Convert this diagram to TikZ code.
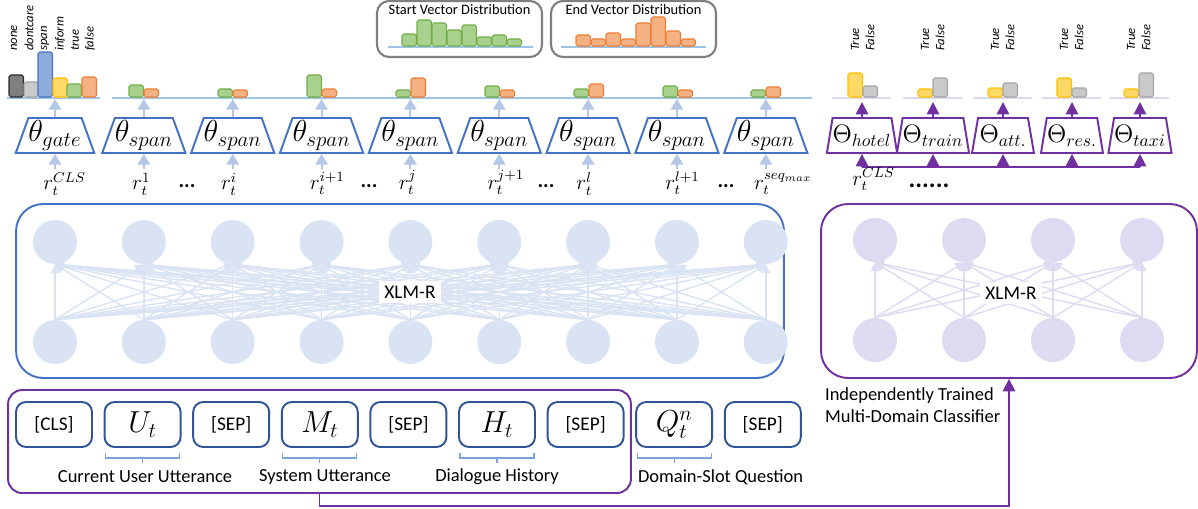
\documentclass[tikz,border=0pt]{standalone}
\usepackage{fontspec}
\setmainfont{Carlito}
\usetikzlibrary{shapes.geometric,arrows.meta,calc,positioning}

\definecolor{encblue}{HTML}{4472C4}
\definecolor{tokblue}{HTML}{2F5597}
\definecolor{lightfill}{HTML}{DAE3F3}
\definecolor{lavfill}{HTML}{DEDAF2}
\definecolor{arrblue}{HTML}{B4C7E7}
\definecolor{baseblue}{HTML}{9DC3E6}
\definecolor{baselav}{HTML}{DCD8F0}
\definecolor{clsviolet}{HTML}{7030A0}
\definecolor{bracecol}{HTML}{7EA2DB}
\definecolor{boxgray}{HTML}{7F7F7F}
\definecolor{grnfill}{HTML}{A9D18E}
\definecolor{grnline}{HTML}{70AD47}
\definecolor{orgfill}{HTML}{F4B183}
\definecolor{orgline}{HTML}{ED7D31}
\definecolor{yelfill}{HTML}{FFD966}
\definecolor{yelline}{HTML}{FFC000}
\definecolor{gryfill}{HTML}{C9C9C9}
\definecolor{gryline}{HTML}{A5A5A5}
\definecolor{blkfill}{HTML}{7F7F7F}
\definecolor{blkline}{HTML}{262626}
\definecolor{bluefill}{HTML}{8FAADC}

\newcommand\distbar[4]{\draw[#1] (#2,#3) rectangle ++(14.5,-#4);}

\tikzset{
  head/.style={trapezium, trapezium stretches=true, draw=encblue, line width=1.1pt,
    inner sep=0pt, minimum height=0.7cm, minimum width=1.54cm, trapezium angle=67, font=\LARGE},
  dhead/.style={head, draw=clsviolet, minimum width=1.24cm, trapezium angle=75, font=\Large},
  tok/.style={draw=tokblue, line width=1.1pt, rounded corners=0.2cm, minimum width=1.52cm,
    minimum height=0.9cm, font=\fontsize{11}{13}\selectfont},
  neuron/.style={circle, fill=lightfill, minimum size=0.88cm, inner sep=0pt},
  dneuron/.style={neuron, fill=lavfill},
  wire/.style={lightfill, line width=0.8pt, -{Triangle[width=5pt,length=5pt]}},
  dwire/.style={wire, lavfill},
  larrow/.style={arrblue, line width=1.2pt, -{Triangle[width=7pt,length=6pt]}},
  parrow/.style={clsviolet, line width=1pt, -{Triangle[width=7pt,length=7pt]}},
  pline/.style={clsviolet, line width=1pt},
  blueline/.style={baseblue, line width=1.7pt},
  lavline/.style={baselav, line width=1.7pt},
  bar/.style={line width=0.6pt, rounded corners=1pt},
  gbar/.style={bar, fill=grnfill, draw=grnline},
  obar/.style={bar, fill=orgfill, draw=orgline},
  ybar/.style={bar, fill=yelfill, draw=yelline},
  sbar/.style={bar, fill=gryfill, draw=gryline},
  kbar/.style={bar, fill=blkfill, draw=blkline},
  bbar/.style={bar, fill=bluefill, draw=encblue},
  tinylab/.style={rotate=90, anchor=west, inner sep=0.5pt, font=\fontsize{7.2}{8}\selectfont\itshape},
  rlab/.style={anchor=base west, inner sep=0pt, font=\large},
  dotlab/.style={inner sep=0pt, font=\large\bfseries},
  distbox/.style={draw=boxgray, line width=1.2pt, rounded corners=0.24cm, minimum width=3.3cm, minimum height=1.12cm},
  boxtitle/.style={inner sep=0pt, font=\fontsize{8.2}{10}\selectfont},
  encbox/.style={draw=encblue, line width=1.1pt, rounded corners=0.54cm, minimum width=15.36cm, minimum height=3.48cm},
  xlmlab/.style={fill=white, inner sep=3pt, font=\fontsize{11}{13}\selectfont},
  inbox/.style={draw=clsviolet, line width=1.1pt, rounded corners=0.28cm, minimum width=12.46cm, minimum height=2.06cm},
  captext/.style={inner sep=1pt, font=\fontsize{10.5}{12}\selectfont},
  brc/.style={bracecol, line width=0.7pt}
}

\begin{document}
\begin{tikzpicture}[x=0.02cm, y=-0.02cm]
  \useasboundingbox (0,0) rectangle (1198,508);

  % start / end vector distributions
  \node[distbox] (sbox) at (459.5,29) {};
  \node[distbox] (ebox) at (633.5,29) {};
  \node[boxtitle] (stitle) at (459.5,10) {Start Vector Distribution};
  \node[boxtitle] (etitle) at (633.5,10) {End Vector Distribution};
  \draw[blueline] (388,47) -- (533,47);
  \draw[blueline] (561,47) -- (706,47);
  \foreach \h [count=\n from 0] in {12,26,23,16,21,9,11,7}
    {\distbar{gbar}{402+15*\n}{46}{\h}}
  \foreach \h [count=\n from 0] in {11,7,13,7,23,29,15,7}
    {\distbar{obar}{576+15*\n}{46}{\h}}

  % gate and span outputs
  \draw[blueline] (7,98) -- (100,98);
  \draw[blueline] (112,98) -- (812,98);
  \distbar{kbar}{9}{97}{22}
  \distbar{sbar}{24}{97}{15}
  \distbar{bbar}{38}{97}{45}
  \distbar{ybar}{53}{97}{19}
  \distbar{gbar}{67}{97}{13}
  \distbar{obar}{82}{97}{20}
  \foreach \x/\t [count=\n] in {14/none,29/dontcare,45/span,60/inform,75/true,90/false}
    \node[tinylab] (gl\n) at (\x,52) {\t};
  \foreach \c/\g/\o in {144/12/8,233/8/7,322/22/8,411/7/19,500/11/7,589/8/13,678/11/7,766/7/10} {
    \distbar{gbar}{\c-15}{97}{\g}
    \distbar{obar}{\c}{97}{\o}
  }

  % heads over the encoder
  \foreach \lab [count=\k from 0] in {gate,span,span,span,span,span,span,span,span} {
    \node[head] (th\k) at (55+88.85*\k,135.5) {$\theta_{\lab}$};
    \coordinate (in\k) at ($(th\k.south)+(0,15)$);
    \coordinate (out\k) at ($(th\k.north)+(0,-18)$);
    \draw[larrow] (in\k) -- (th\k.south);
    \draw[larrow] (th\k.north) -- (out\k);
  }
  \foreach \s [count=\k from 0] in {CLS,1,i,i+1,j,j+1,l,l+1,{seq_{max}}}
    \node[rlab] (r\k) at ($(in\k)+(-12,21)$) {$r_t^{\s}$};
  \foreach \x [count=\n] in {187,369,546,726}
    \node[dotlab] (dots\n) at (\x,186) {...};

  % XLM-R encoder
  \node[encbox] (enc) at (400,291) {};
  \foreach \k in {0,...,8} {
    \node[neuron] (top\k) at (55+88.85*\k,242) {};
    \node[neuron] (bot\k) at (55+88.85*\k,342) {};
  }
  \foreach \i in {0,...,8}
    \foreach \j in {0,...,8}
      \draw[wire] (bot\i.north) -- (top\j.south);
  \node[xlmlab] (xlm) at (410,292) {XLM-R};

  % domain classifier
  \foreach \d/\lab [count=\k] in {862/hotel,933/train,1003/att.,1072/res.,1140/taxi} {
    \node[dhead] (cl\k) at (\d,135.5) {$\Theta_{\lab}$};
    \coordinate (cin\k) at (\d,167);
    \coordinate (cout\k) at (\d,102);
    \draw[parrow] (cin\k) -- (cl\k.south);
    \draw[parrow] (cl\k.north) -- (cout\k);
    \draw[lavline] (\d-30,98) -- (\d+29,98);
  }
  \draw[pline] (cin1) -- (cin5);
  \foreach \d/\a/\b [count=\n] in {863/24/11,933/8/19,1003/9/14,1072/19/9,1139/8/24} {
    \distbar{ybar}{\d-15}{97}{\a}
    \distbar{sbar}{\d}{97}{\b}
    \node[tinylab] (tl\n) at (\d-8,52) {True};
    \node[tinylab] (fl\n) at (\d+7,52) {False};
  }
  \node[rlab] (rcls) at (852,185) {$r_t^{CLS}$};
  \node[dotlab, font=\Large\bfseries] (cdots) at (929,186) {......};

  \node[encbox, draw=clsviolet, minimum width=7.52cm] (enc2) at (1009,291) {};
  \foreach \k in {0,...,3} {
    \node[dneuron] (dtop\k) at (875+89*\k,240) {};
    \node[dneuron] (dbot\k) at (875+89*\k,340) {};
  }
  \foreach \i in {0,...,3}
    \foreach \j in {0,...,3}
      \draw[dwire] (dbot\i.north) -- (dtop\j.south);
  \node[xlmlab] (xlm2) at (1011,293) {XLM-R};

  % input sequence
  \node[inbox] (inp) at (319.5,441.5) {};
  \foreach \t [count=\k from 0] in {{[CLS]},{\LARGE$U_t$},{[SEP]},{\LARGE$M_t$},{[SEP]},{\LARGE$H_t$},{[SEP]},{\LARGE$Q_t^n$},{[SEP]}}
    \node[tok] (t\k) at (54+88.6*\k,424.5) {\t};
  \foreach \k in {1,3,5,7} {
    \draw[brc] ($(t\k.south west)+(2,5)$) -- ++(0,5) -| ($(t\k.south east)+(-2,5)$);
    \draw[brc] ($(t\k.south)+(0,10)$) -- ++(0,5);
  }
  \node[captext] (c1) at (145,477) {Current User Utterance};
  \node[captext] (c2) at (325,477) {System Utterance};
  \node[captext] (c3) at (497,477) {Dialogue History};
  \node[captext, anchor=west] (c4) at (636,477) {Domain-Slot Question};
  \node[captext, anchor=north west, align=left] (note) at (823,386) {Independently Trained\\Multi-Domain Classifier};

  \draw[parrow] (inp.south) -- ++(0,12) -| (enc2.south);
\end{tikzpicture}
\end{document}
